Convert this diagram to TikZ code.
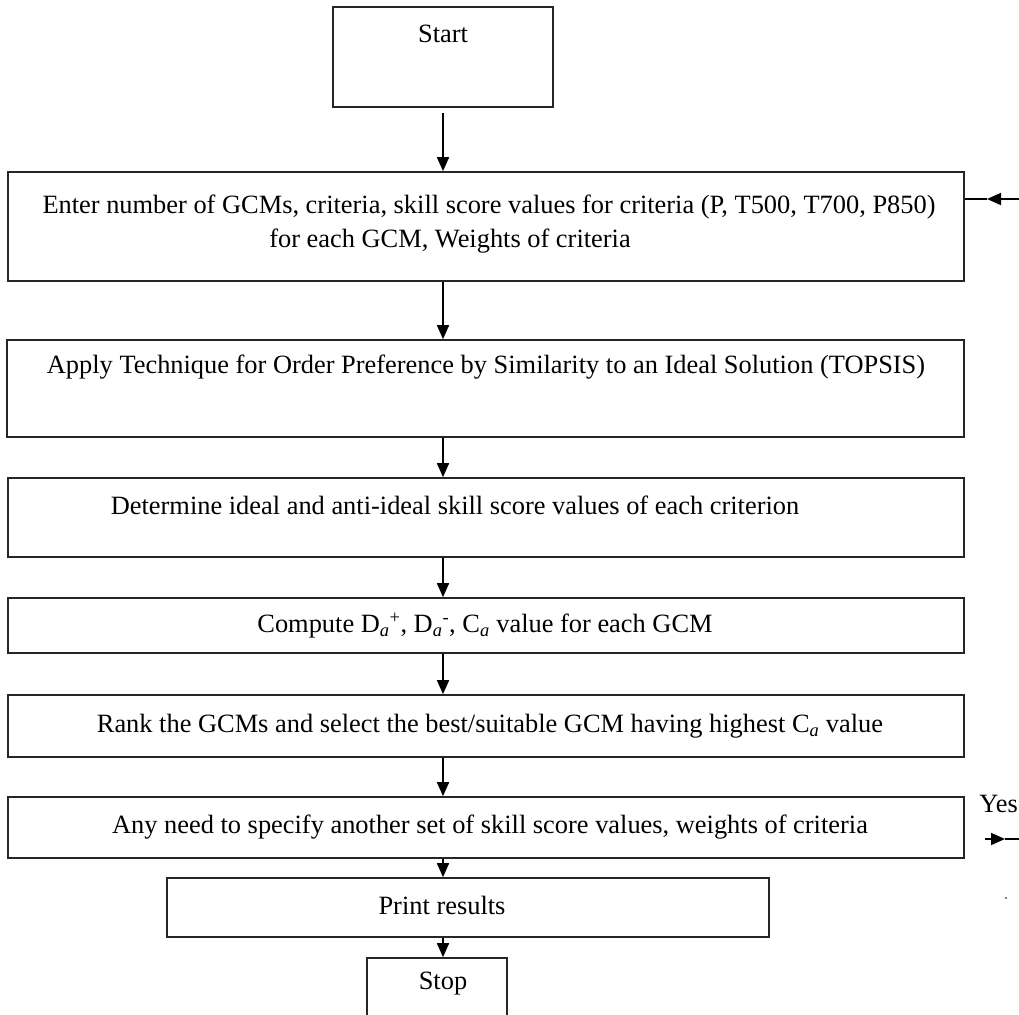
\documentclass[tikz,border=0pt]{standalone}
\usepackage{fontspec}
\setmainfont{Liberation Serif}
\usetikzlibrary{arrows.meta}
\begin{document}
\begin{tikzpicture}[x=1pt,y=-1pt,
  box/.style={draw=black!85,line width=1.7pt,inner sep=0pt},
  txt/.style={inner sep=0pt,font=\fontsize{26.4}{30}\selectfont},
  arr/.style={line width=1.7pt,-{Triangle[length=14pt,width=12pt]}},
  plain/.style={line width=1.7pt}]
\useasboundingbox (0,0) rectangle (1019,1014);
\clip (0,0) rectangle (1019,1014);
% boxes
\node[box,minimum width=220pt,minimum height=100pt] (b1) at (443,57) {};
\node[box,minimum width=956pt,minimum height=109pt] (b2) at (486,226.5) {};
\node[box,minimum width=957pt,minimum height=97pt] (b3) at (485.5,388.5) {};
\node[box,minimum width=956pt,minimum height=79pt] (b4) at (486,517.5) {};
\node[box,minimum width=956pt,minimum height=55pt] (b5) at (486,625.5) {};
\node[box,minimum width=956pt,minimum height=62pt] (b6) at (486,726) {};
\node[box,minimum width=956pt,minimum height=61pt] (b7) at (486,827.5) {};
\node[box,minimum width=602pt,minimum height=59pt] (b8) at (468,907.5) {};
\node[box,minimum width=140pt,minimum height=67pt] (b9) at (437,991.5) {};
% texts
\node[txt] (t1) at (443,34) {Start};
\node[txt] (t2a) at (489,207) {Enter number of GCMs, criteria, skill score values for criteria (P, T500, T700, P850)};
\node[txt] (t2b) at (450,241) {for each GCM, Weights of criteria};
\node[txt] (t3) at (486,367) {Apply Technique for Order Preference by Similarity to an Ideal Solution (TOPSIS)};
\node[txt] (t4) at (455,505) {Determine ideal and anti-ideal skill score values of each criterion};
\node[txt] (t5) at (485,626) {Compute D\textsubscript{\textit{a}}\textsuperscript{+}, D\textsubscript{\textit{a}}\textsuperscript{-}, C\textsubscript{\textit{a}} value for each GCM};
\node[txt] (t6) at (490,726) {Rank the GCMs and select the best/suitable GCM having highest C\textsubscript{\textit{a}} value};
\node[txt] (t7) at (490,827) {Any need to specify another set of skill score values, weights of criteria};
\node[txt] (t8) at (442,905) {Print results};
\node[txt] (t9) at (443,984) {Stop};
\node[txt,anchor=east] (yes) at (1018,804) {Yes};
% connectors
\coordinate (ax) at (443,0);
\draw[arr,shorten <=5pt] (b1.south) -- (ax |- b2.north);
\draw[arr] (ax |- b2.south) -- (ax |- b3.north);
\draw[arr] (ax |- b3.south) -- (ax |- b4.north);
\draw[arr] (ax |- b4.south) -- (ax |- b5.north);
\draw[arr] (ax |- b5.south) -- (ax |- b6.north);
\draw[arr] (ax |- b6.south) -- (ax |- b7.north);
\draw[arr] (ax |- b7.south) -- (ax |- b8.north);
\draw[arr] (ax |- b8.south) -- (ax |- b9.north);
% loop-back arrow into box 2 (right side)
\coordinate (inR) at (1019,199);
\coordinate (inM) at (987,199);
\draw[arr] (inR) -- (inM);
\draw[plain] (inM) -- (b2.east |- inM);
% Yes arrow
\coordinate (yesA) at (985,839);
\coordinate (yesM) at (1005,839);
\coordinate (yesR) at (1019,839);
\draw[arr] (yesA) -- (yesM);
\draw[plain] (yesM) -- (yesR);
\fill (1006,898) circle (0.8pt);
\end{tikzpicture}
\end{document}
